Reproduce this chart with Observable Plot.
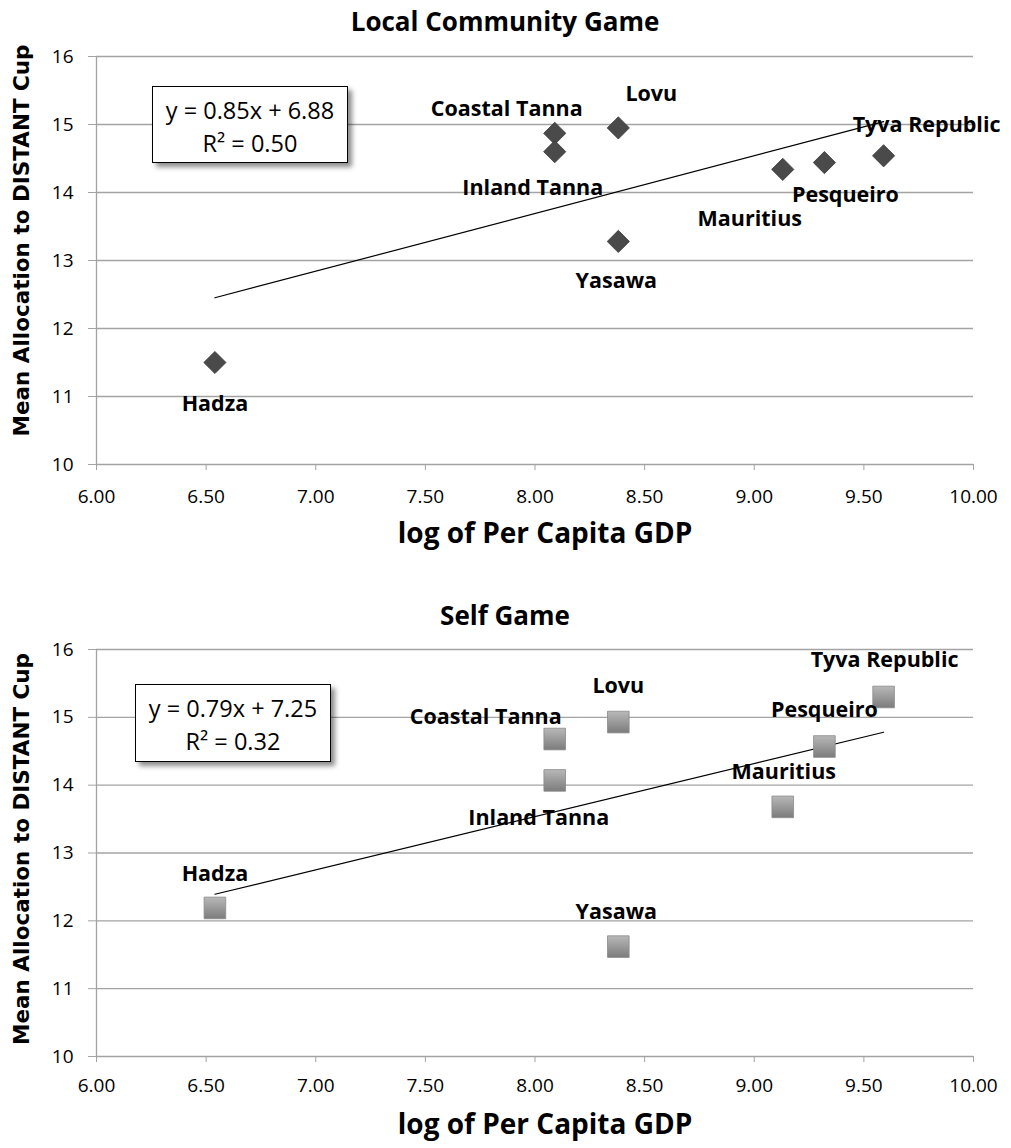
<!DOCTYPE html>
<html><head><meta charset="utf-8">
<script src="https://cdn.jsdelivr.net/npm/d3@7"></script>
<script src="https://cdn.jsdelivr.net/npm/@observablehq/plot@0.6"></script>
<style>
body{margin:0;background:#fff;}
#wrap{position:relative;width:1011px;height:1148px;overflow:hidden;}
#wrap svg{display:block;}
.eq{position:absolute;box-sizing:border-box;background:#fff;border:1.5px solid #000;box-shadow:4px 4px 5px rgba(0,0,0,0.45);font-family:"Open Sans",sans-serif;font-size:23.5px;text-align:center;line-height:33px;padding-top:7px;color:#000;}
</style></head>
<body><div id="wrap"></div>
<script>
// ---- data ----
const places = ["Hadza","Coastal Tanna","Inland Tanna","Lovu","Yasawa","Mauritius","Pesqueiro","Tyva Republic"];
const logGDP = [6.54, 8.09, 8.09, 8.38, 8.38, 9.13, 9.32, 9.59];
const localCommunity = [11.50, 14.87, 14.60, 14.95, 13.28, 14.34, 14.44, 14.54];
const selfGame = [12.19, 14.68, 14.07, 14.93, 11.62, 13.68, 14.57, 15.30];
const xTicks = [6, 6.5, 7, 7.5, 8, 8.5, 9, 9.5, 10];
const yTicks = [10, 11, 12, 13, 14, 15, 16];
const panelTitles = ["Local Community Game", "Self Game"];
const equations = [["y = 0.85x + 6.88", "R² = 0.50"], ["y = 0.79x + 7.25", "R² = 0.32"]];
const xTitle = "log of Per Capita GDP";
const yTitle = "Mean Allocation to DISTANT Cup";

// ---- layout (label offsets in px) ----
const labelOffsets = [
  [[0,42],[-48,-24],[-22,36],[33,-34],[-2,40],[-33,50],[21,33],[43,-31]],
  [[0,-34],[-69,-22],[-16,38],[0,-36],[-2,-35],[1,-35],[0,-36],[1,-37]]
];

const wrap = document.getElementById("wrap");
const FONT = "'Open Sans', sans-serif";

function panel(k, values, opts) {
  const rows = places.map((name, i) => ({name, x: logGDP[i], y: values[i]}));
  const labels = rows.map((d, i) => Plot.text([d], {
    x: "x", y: "y", text: "name", dx: labelOffsets[k][i][0], dy: labelOffsets[k][i][1],
    fontWeight: "bold", fontSize: 21.5, fill: "#000"
  }));
  const svg = Plot.plot({
    width: 1011, height: opts.height,
    marginTop: opts.marginTop, marginBottom: opts.marginBottom, marginLeft: 96, marginRight: 38,
    style: {fontFamily: FONT, fontSize: "19px", color: "#000", background: "#fff", overflow: "visible"},
    x: {domain: [6, 10]},
    y: {domain: [10, 16]},
    marks: [
      Plot.gridY(yTicks.slice(1), {stroke: "#a3a3a3", strokeOpacity: 1, strokeWidth: 1.3}),
      Plot.ruleY([10], {stroke: "#a3a3a3", strokeWidth: 1.3}),
      Plot.ruleX([6], {stroke: "#a3a3a3", strokeWidth: 1.3}),
      Plot.axisX({ticks: xTicks, tickFormat: d3.format(".2f"), tickSize: 6, tickPadding: opts.xPad, stroke: "#a3a3a3", label: null, fontSize: 19}),
      Plot.axisY({ticks: yTicks, tickFormat: d3.format("d"), tickSize: 8, tickPadding: 15, stroke: "#a3a3a3", label: null, fontSize: 19}),
      Plot.linearRegressionY(rows, {x: "x", y: "y", ci: 0, stroke: "#000", strokeWidth: 1.2}),
      Plot.dot(rows, {x: "x", y: "y", symbol: opts.symbol, r: opts.r, fill: opts.fill, stroke: opts.stroke, strokeWidth: 0.8}),
      ...labels,
      Plot.text([panelTitles[k]], {text: d => d, frameAnchor: "top", lineAnchor: "middle", textAnchor: "middle", dx: -30, dy: opts.titleDy, fontWeight: "bold", fontSize: 26}),
      Plot.text([xTitle], {text: d => d, frameAnchor: "bottom", lineAnchor: "middle", textAnchor: "middle", dx: 10, dy: opts.xTitleDy, fontWeight: "bold", fontSize: 28}),
      Plot.text([yTitle], {text: d => d, frameAnchor: "left", lineAnchor: "middle", textAnchor: "middle", rotate: -90, dx: -74, dy: opts.yTitleDy, fontWeight: "bold", fontSize: 21.5, fontFamily: "DejaVu Sans"})
    ]
  });
  if (opts.gradient) {
    const defs = d3.select(svg).insert("defs", ":first-child");
    const g = defs.append("linearGradient").attr("id", "sqgrad").attr("x1", 0).attr("y1", 0).attr("x2", 0).attr("y2", 1);
    g.append("stop").attr("offset", "0%").attr("stop-color", "#b8b8b8");
    g.append("stop").attr("offset", "100%").attr("stop-color", "#7c7c7c");
  }
  wrap.appendChild(svg);
}

panel(0, localCommunity, {height: 575, marginTop: 56, marginBottom: 111, symbol: "diamond2", r: 10, fill: "#4a4a4a", stroke: "#3a3a3a", xPad: 19, titleDy: -34, xTitleDy: 70, yTitleDy: -20});
panel(1, selfGame, {height: 573, marginTop: 74, marginBottom: 92, symbol: "square", r: 12.2, fill: "url(#sqgrad)", stroke: "#8a8a8a", gradient: true, xPad: 16, titleDy: -33, xTitleDy: 69, yTitleDy: -4});

// equation boxes (annotations)
const boxes = [{left: 152, top: 86, width: 196, height: 77}, {left: 135, top: 684, width: 196, height: 78}];
boxes.forEach((b, k) => {
  const div = document.createElement("div");
  div.className = "eq";
  Object.assign(div.style, {left: b.left + "px", top: b.top + "px", width: b.width + "px", height: b.height + "px"});
  div.innerHTML = equations[k][0] + "<br>" + equations[k][1];
  wrap.appendChild(div);
});
</script>
</body></html>
